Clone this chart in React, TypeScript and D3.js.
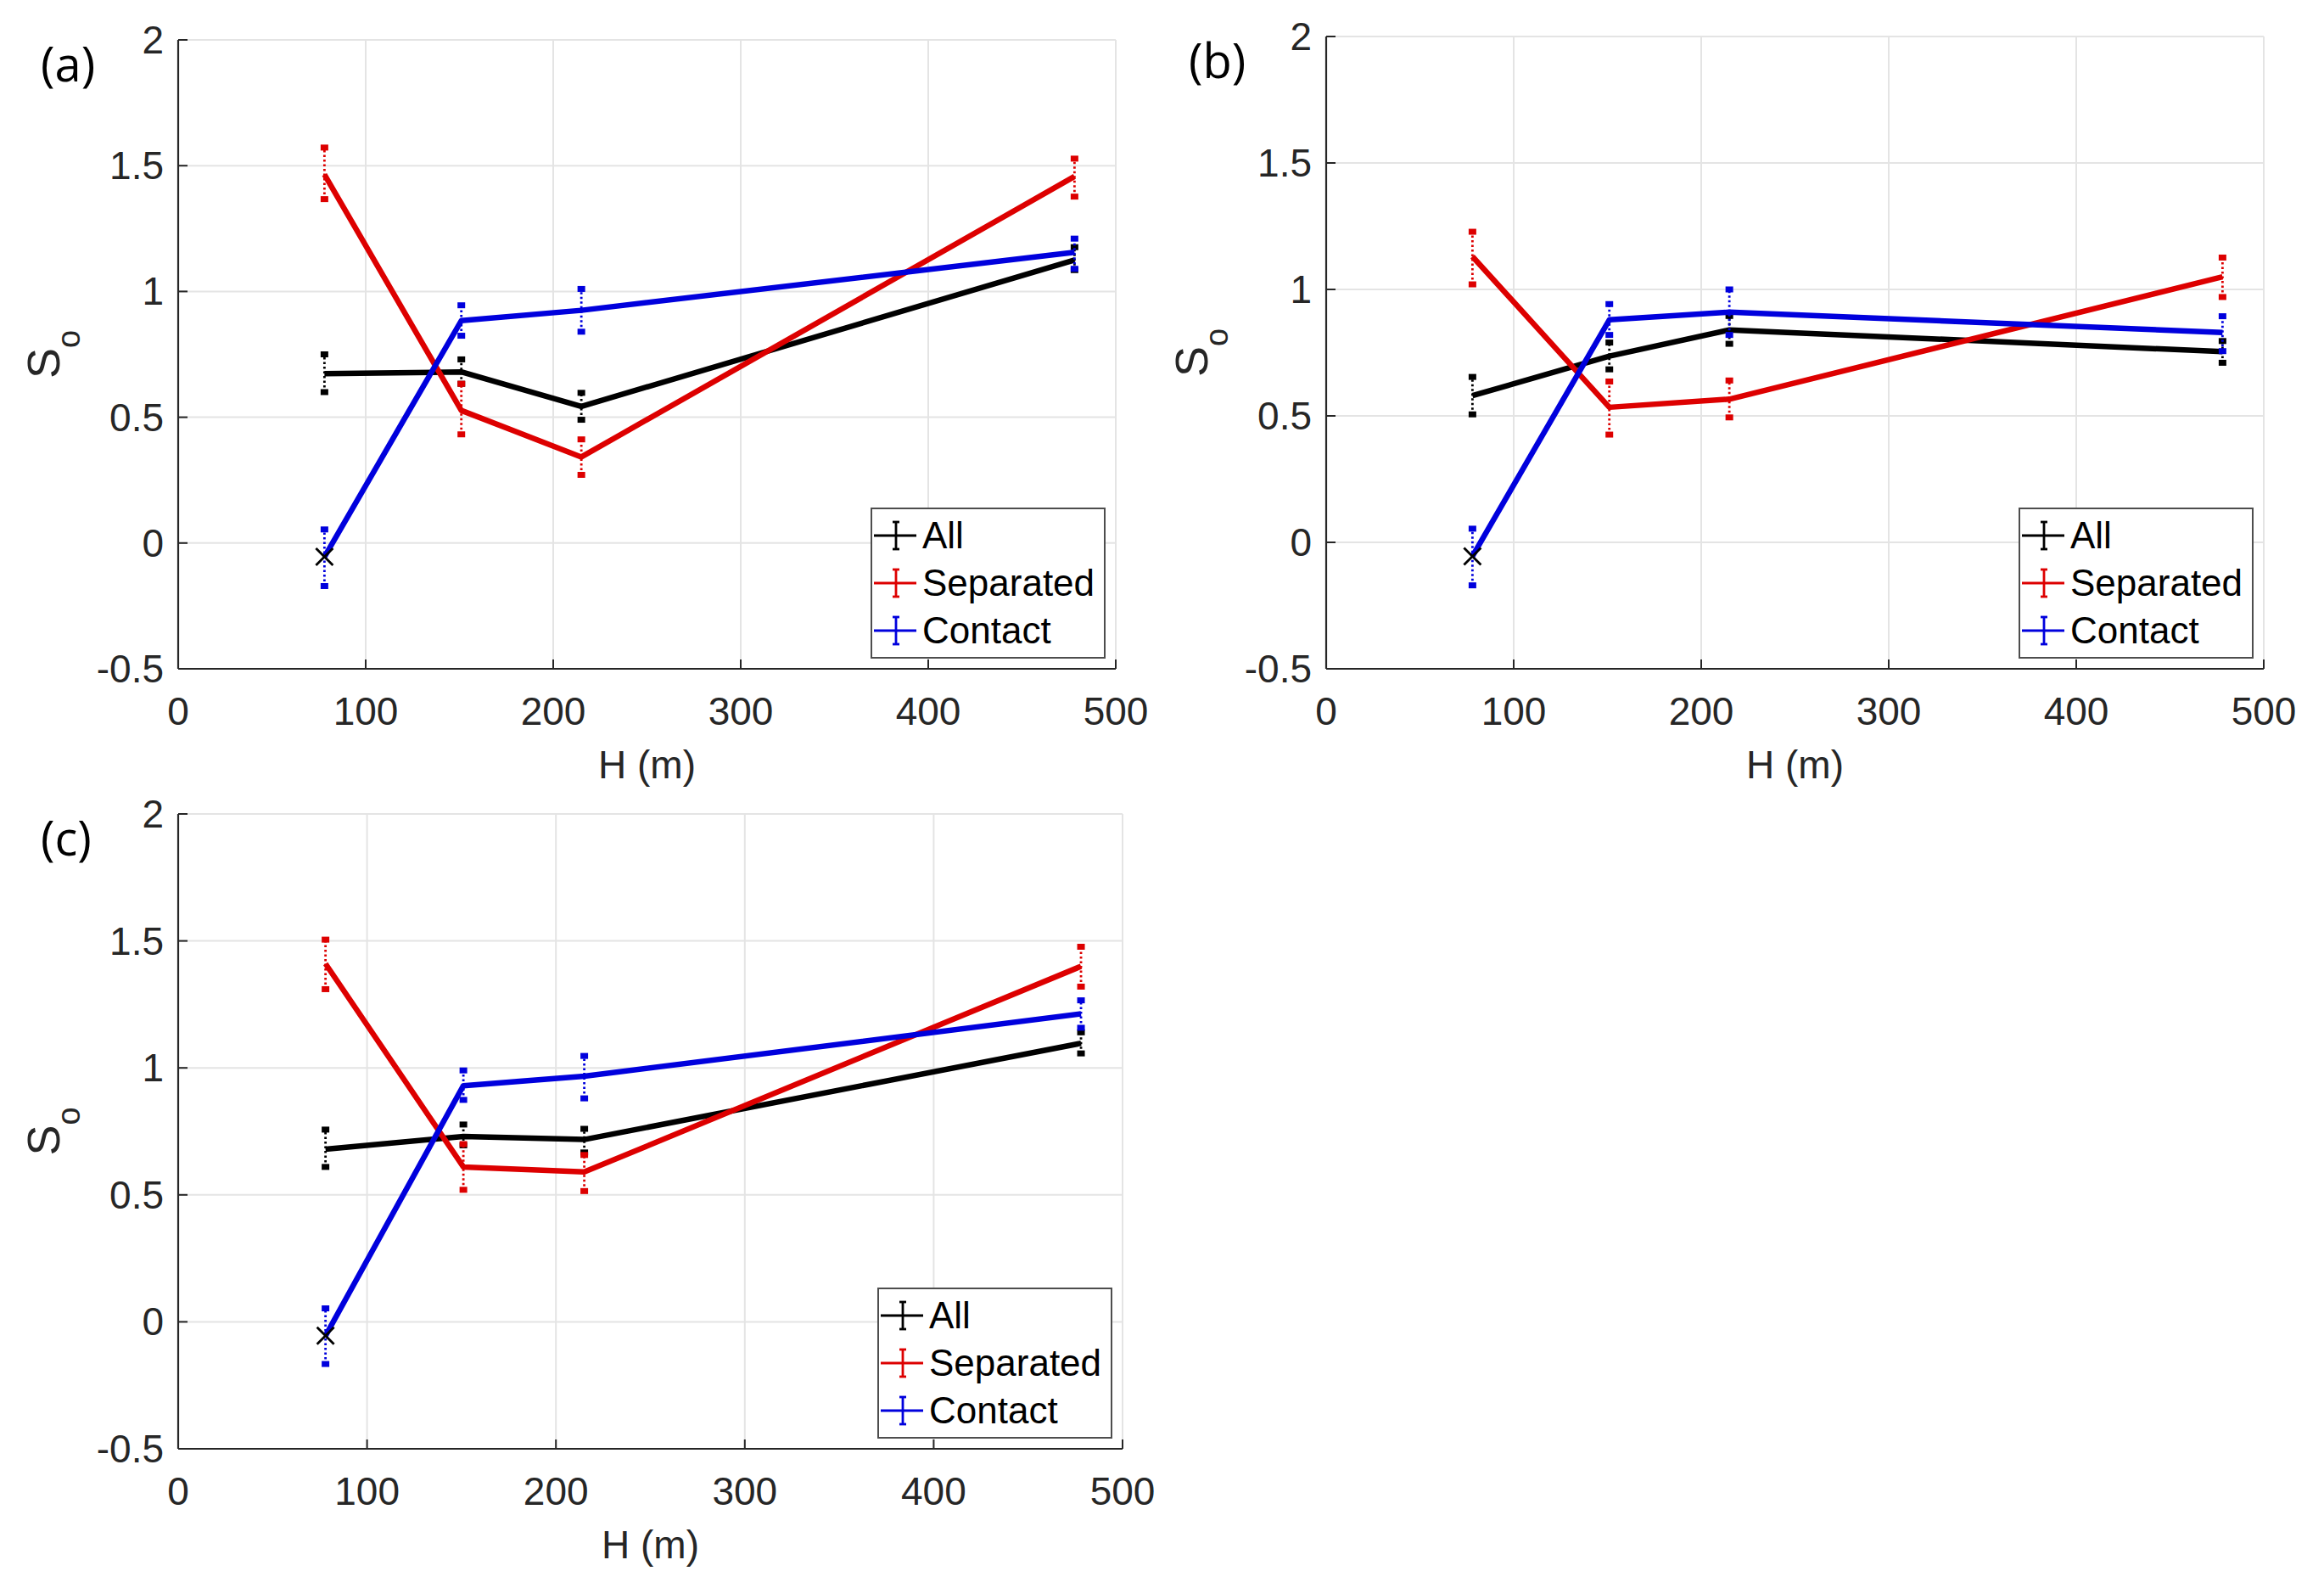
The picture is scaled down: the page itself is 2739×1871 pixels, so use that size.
import React from 'react';
import * as d3 from 'd3';

// building height (m)
const H = [78, 151, 215, 478];

// panel (a)
const allA = [0.673, 0.68, 0.543, 1.125];
const allALo = [0.6, 0.633, 0.49, 1.085];
const allAHi = [0.75, 0.73, 0.597, 1.176];
const sepA = [1.465, 0.527, 0.342, 1.457];
const sepALo = [1.367, 0.432, 0.271, 1.377];
const sepAHi = [1.572, 0.633, 0.412, 1.528];
const conA = [-0.055, 0.884, 0.925, 1.156];
const conALo = [-0.171, 0.824, 0.84, 1.09];
const conAHi = [0.054, 0.945, 1.01, 1.21];

// panel (b)
const allB = [0.58, 0.736, 0.84, 0.754];
const allBLo = [0.506, 0.684, 0.785, 0.71];
const allBHi = [0.654, 0.79, 0.895, 0.796];
const sepB = [1.13, 0.534, 0.566, 1.05];
const sepBLo = [1.02, 0.426, 0.494, 0.97];
const sepBHi = [1.228, 0.636, 0.64, 1.126];
const conB = [-0.055, 0.88, 0.91, 0.83];
const conBLo = [-0.17, 0.82, 0.82, 0.756];
const conBHi = [0.054, 0.942, 1.0, 0.894];

// panel (c)
const allC = [0.68, 0.73, 0.718, 1.097];
const allCLo = [0.61, 0.695, 0.667, 1.057];
const allCHi = [0.757, 0.777, 0.76, 1.14];
const sepC = [1.41, 0.61, 0.59, 1.4];
const sepCLo = [1.31, 0.52, 0.515, 1.32];
const sepCHi = [1.505, 0.7, 0.657, 1.477];
const conC = [-0.055, 0.93, 0.967, 1.213];
const conCLo = [-0.166, 0.874, 0.88, 1.158];
const conCHi = [0.053, 0.99, 1.047, 1.266];

const seriesNames = ['All', 'Separated', 'Contact'];
const seriesColors = ['#000000', '#dd0000', '#0000dd'];

const xTicks = [0, 100, 200, 300, 400, 500];
const yTicks = [-0.5, 0, 0.5, 1, 1.5, 2];
const yTickLabels = ['-0.5', '0', '0.5', '1', '1.5', '2'];

const FONT = '"Liberation Sans", Arial, Helvetica, sans-serif';
const AXIS = '#262626';
const GRID = '#e4e4e4';

type Series = { v: number[]; lo: number[]; hi: number[] };

interface PanelProps {
    left: number;
    top: number;
    width: number;
    height: number;
    label: string;
    series: Series[];
}

const Panel: React.FC<PanelProps> = ({ left, top, width, height, label, series }) => {
    const x = d3.scaleLinear().domain([0, 500]).range([left, left + width]);
    const y = d3.scaleLinear().domain([-0.5, 2]).range([top + height, top]);
    const bottom = top + height;
    const right = left + width;

    const line = d3.line<number>()
        .x((_, i) => x(H[i]))
        .y(d => y(d));

    // legend box
    const lw = 275, lh = 176;
    const lx = right - 13 - lw;
    const ly = bottom - 13 - lh;

    return (
        <g>
            {/* grid */}
            {xTicks.map(t => (
                <line key={'gx' + t} x1={x(t)} x2={x(t)} y1={top} y2={bottom} stroke={GRID} strokeWidth={2} />
            ))}
            {yTicks.map(t => (
                <line key={'gy' + t} x1={left} x2={right} y1={y(t)} y2={y(t)} stroke={GRID} strokeWidth={2} />
            ))}

            {/* axes */}
            <line x1={left} x2={left} y1={top} y2={bottom} stroke={AXIS} strokeWidth={2.2} />
            <line x1={left} x2={right} y1={bottom} y2={bottom} stroke={AXIS} strokeWidth={2.2} />
            {xTicks.map(t => (
                <g key={'tx' + t}>
                    <line x1={x(t)} x2={x(t)} y1={bottom} y2={bottom - 11} stroke={AXIS} strokeWidth={2} />
                    <text x={x(t)} y={bottom + 66} fontSize={46} fontFamily={FONT} fill={AXIS} textAnchor="middle">{t}</text>
                </g>
            ))}
            {yTicks.map((t, i) => (
                <g key={'ty' + t}>
                    <line x1={left} x2={left + 11} y1={y(t)} y2={y(t)} stroke={AXIS} strokeWidth={2} />
                    <text x={left - 17} y={y(t) + 16} fontSize={46} fontFamily={FONT} fill={AXIS} textAnchor="end">{yTickLabels[i]}</text>
                </g>
            ))}

            {/* axis labels */}
            <text x={(left + right) / 2} y={bottom + 129} fontSize={46} fontFamily={FONT} fill={AXIS} textAnchor="middle">H (m)</text>
            <text
                transform={`translate(${left - 140},${(top + bottom) / 2}) rotate(-90)`}
                fontSize={54} fontFamily={FONT} fill={AXIS} textAnchor="middle"
            >
                S<tspan fontSize={38} dy={24}>o</tspan>
            </text>

            {/* panel label */}
            <text x={left - 162} y={top + 49} fontSize={56} fontFamily='"Open Sans", "Noto Sans", sans-serif' fill="#000">{label}</text>

            {/* series with error bars */}
            {series.map((s, k) => (
                <g key={'s' + k}>
                    <path d={line(s.v) || ''} fill="none" stroke={seriesColors[k]} strokeWidth={6.5} strokeLinejoin="round" />
                    {s.v.map((_, i) => (
                        <g key={'e' + i}>
                            <line x1={x(H[i])} x2={x(H[i])} y1={y(s.lo[i])} y2={y(s.hi[i])}
                                stroke={seriesColors[k]} strokeWidth={2.8} strokeDasharray="2.5 3" />
                            <rect x={x(H[i]) - 4.5} y={y(s.lo[i]) - 3.5} width={9} height={7} fill={seriesColors[k]} />
                            <rect x={x(H[i]) - 4.5} y={y(s.hi[i]) - 3.5} width={9} height={7} fill={seriesColors[k]} />
                        </g>
                    ))}
                </g>
            ))}

            {/* black cross at first contact point */}
            <g stroke="#000" strokeWidth={2.8}>
                <line x1={x(H[0]) - 10} x2={x(H[0]) + 10} y1={y(series[2].v[0]) - 10} y2={y(series[2].v[0]) + 10} />
                <line x1={x(H[0]) - 10} x2={x(H[0]) + 10} y1={y(series[2].v[0]) + 10} y2={y(series[2].v[0]) - 10} />
            </g>

            {/* legend */}
            <rect x={lx} y={ly} width={lw} height={lh} fill="#fff" stroke="#4d4d4d" strokeWidth={2} />
            {seriesNames.map((name, k) => {
                const cy = ly + 32 + k * 56;
                return (
                    <g key={'l' + name}>
                        <line x1={lx + 3} x2={lx + 53} y1={cy} y2={cy} stroke={seriesColors[k]} strokeWidth={2.8} />
                        <line x1={lx + 29} x2={lx + 29} y1={cy - 16} y2={cy + 16} stroke={seriesColors[k]} strokeWidth={2.8} />
                        <line x1={lx + 25} x2={lx + 33} y1={cy - 16} y2={cy - 16} stroke={seriesColors[k]} strokeWidth={2.8} />
                        <line x1={lx + 25} x2={lx + 33} y1={cy + 16} y2={cy + 16} stroke={seriesColors[k]} strokeWidth={2.8} />
                        <text x={lx + 60} y={cy + 15} fontSize={44} fontFamily={FONT} fill="#000">{name}</text>
                    </g>
                );
            })}
        </g>
    );
};

export default function App() {
    const panelA: Series[] = [
        { v: allA, lo: allALo, hi: allAHi },
        { v: sepA, lo: sepALo, hi: sepAHi },
        { v: conA, lo: conALo, hi: conAHi },
    ];
    const panelB: Series[] = [
        { v: allB, lo: allBLo, hi: allBHi },
        { v: sepB, lo: sepBLo, hi: sepBHi },
        { v: conB, lo: conBLo, hi: conBHi },
    ];
    const panelC: Series[] = [
        { v: allC, lo: allCLo, hi: allCHi },
        { v: sepC, lo: sepCLo, hi: sepCHi },
        { v: conC, lo: conCLo, hi: conCHi },
    ];

    return (
        <svg width={2739} height={1871} style={{ position: 'absolute', left: 0, top: 0, background: '#fff' }}>
            <rect width={2739} height={1871} fill="#fff" />
            <Panel left={210} top={47} width={1105} height={741} label="(a)" series={panelA} />
            <Panel left={1563} top={43} width={1105} height={745} label="(b)" series={panelB} />
            <Panel left={210} top={959} width={1113} height={748} label="(c)" series={panelC} />
        </svg>
    );
}
